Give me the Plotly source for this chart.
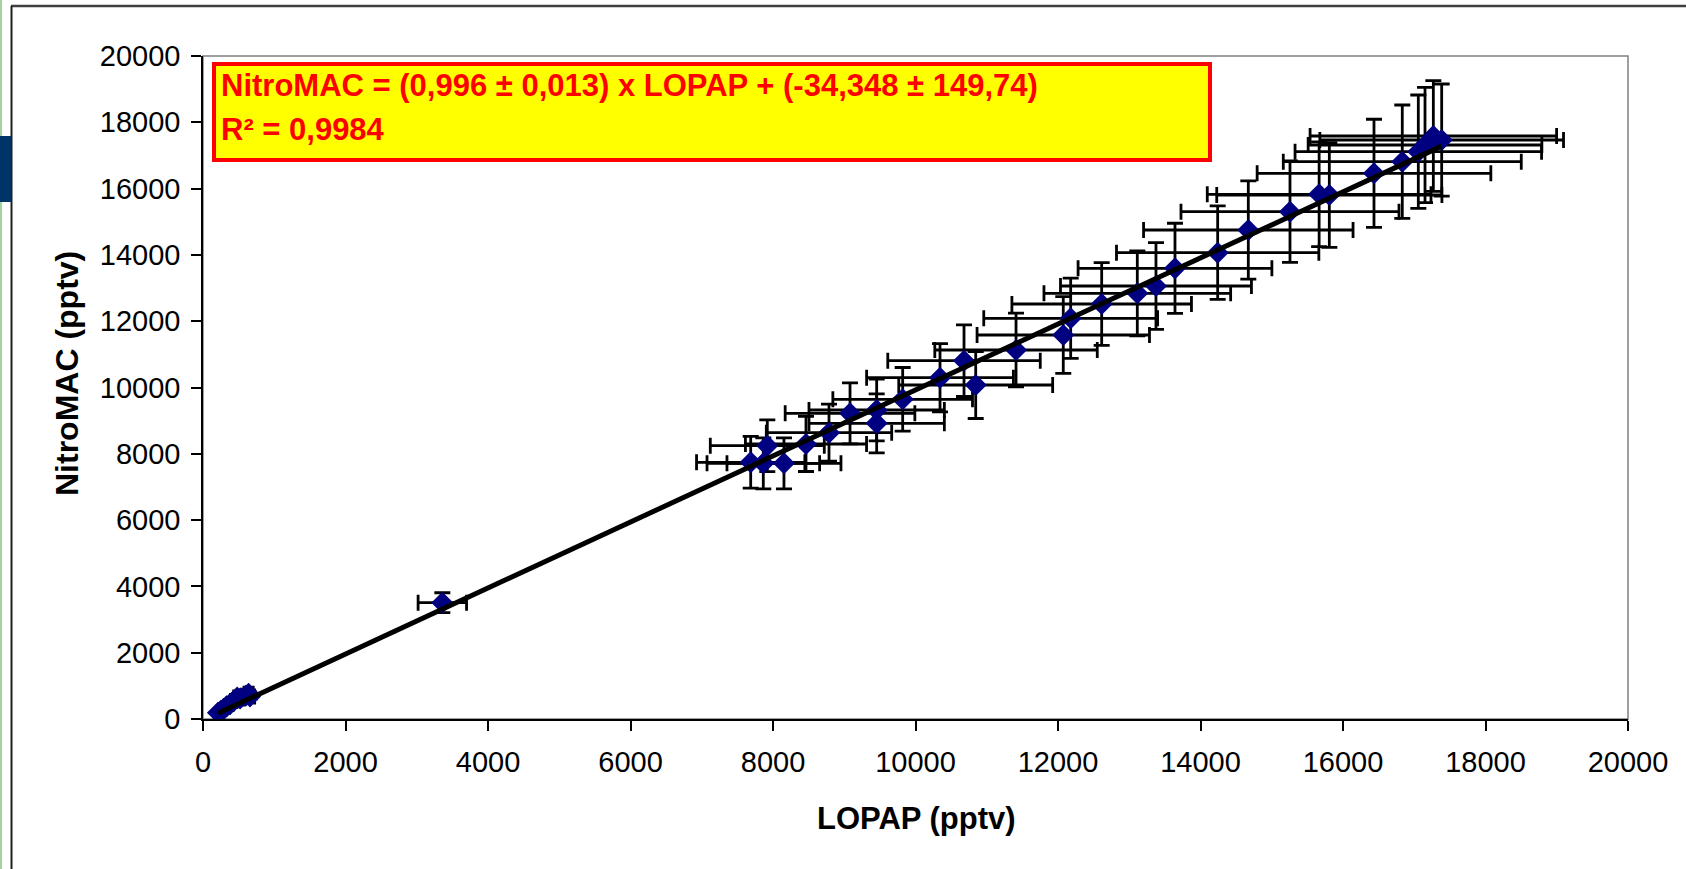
import plotly.graph_objects as go

# ---------------- data ----------------
lopap = [210, 250, 290, 330, 380, 430, 480, 520, 600, 640, 660,
         3359,
         7687, 7864, 7920, 8154, 8463, 8786, 9081, 9455, 9455, 9820,
         10344, 10681, 10845, 11411, 12074, 12178, 12613, 13113, 13375, 13642,
         14241, 14671, 15256, 15665, 15808, 16435, 16832, 17057, 17151, 17268, 17385]
nitromac = [190, 250, 300, 380, 450, 540, 650, 620, 700, 760, 680,
            3508,
            7744, 7713, 8244, 7713, 8296, 8637, 9222, 9321, 8920, 9644,
            10296, 10808, 10075, 11131, 11584, 12087, 12519, 12841, 13062, 13595,
            14066, 14751, 15303, 15828, 15807, 16462, 16812, 17113, 17315, 17587, 17466]
lopap_err = [20, 25, 30, 35, 40, 45, 50, 50, 60, 65, 65,
             340,
             760, 790, 800, 800, 850, 880, 910, 950, 950, 980,
             1030, 1070, 1080, 1140, 1210, 1220, 1260, 1310, 1340, 1360,
             1420, 1470, 1530, 1570, 1580, 1640, 1670, 1730, 1640, 1730, 1710]
nitromac_err = [20, 25, 30, 40, 45, 55, 65, 60, 70, 75, 70,
                300,
                780, 770, 780, 770, 830, 860, 920, 930, 890, 960,
                1030, 1080, 1010, 1110, 1160, 1210, 1250, 1280, 1310, 1360,
                1410, 1480, 1530, 1580, 1580, 1630, 1710, 1710, 1740, 1670, 1690]

fit_slope = 0.996
fit_intercept = -34.348
eq_line1 = "NitroMAC = (0,996 ± 0,013) x LOPAP + (-34,348 ± 149,74)"
eq_line2 = "R² = 0,9984"
x_title = "LOPAP (pptv)"
y_title = "NitroMAC (pptv)"
axis_range = [0, 20000]
tick_step = 2000

# ---------------- layout geometry ----------------
W, H = 1686, 869
L, R, T, B = 203, 1628, 56, 719   # plot area in pixels
FONT = "Liberation Sans, Arial, sans-serif"


def px(x):
    return (x - L) / (R - L)


def py(y):
    return (B - y) / (B - T)


trend_x = [min(lopap), max(lopap)]
trend_y = [fit_slope * v + fit_intercept for v in trend_x]

fig = go.Figure()
fig.add_trace(go.Scatter(
    x=lopap, y=nitromac, mode="markers",
    marker=dict(symbol="diamond", size=17, color="#000080", line=dict(width=0)),
    error_x=dict(type="data", array=lopap_err, visible=True, color="black",
                 thickness=2.8, width=8),
    error_y=dict(type="data", array=nitromac_err, visible=True, color="black",
                 thickness=2.8, width=8),
    showlegend=False, hoverinfo="x+y",
))
fig.add_trace(go.Scatter(
    x=trend_x, y=trend_y, mode="lines",
    line=dict(color="black", width=5), showlegend=False, hoverinfo="skip",
))

axis_common = dict(
    range=axis_range, dtick=tick_step, tick0=0, tickformat="d",
    showgrid=False, zeroline=False, showline=True, linecolor="black", linewidth=1.5,
    ticks="outside", ticklen=10, tickwidth=1.5, tickcolor="black",
    tickfont=dict(family=FONT, size=29, color="black"),
    fixedrange=True,
)

shapes = [
    # plot area border (gray)
    dict(type="rect", xref="paper", yref="paper", x0=0, y0=0, x1=1, y1=1,
         line=dict(color="#808080", width=1.5), layer="below"),
    # outer frame top line
    dict(type="line", xref="paper", yref="paper", x0=px(11), x1=px(W + 5), y0=py(6), y1=py(6),
         line=dict(color="#404040", width=2.5)),
    # outer frame left line
    dict(type="line", xref="paper", yref="paper", x0=px(11.5), x1=px(11.5), y0=py(6), y1=py(H + 5),
         line=dict(color="#202020", width=2)),
    # green edge line
    dict(type="line", xref="paper", yref="paper", x0=px(1), x1=px(1), y0=py(-5), y1=py(H + 5),
         line=dict(color="#9fd49f", width=2)),
    # dark blue tab at left
    dict(type="rect", xref="paper", yref="paper", x0=px(-2), x1=px(11), y0=py(136), y1=py(202),
         fillcolor="#003366", line=dict(width=0)),
    # equation box
    dict(type="rect", xref="paper", yref="paper", x0=px(214), x1=px(1210), y0=py(64), y1=py(160),
         fillcolor="#ffff00", line=dict(color="#ff0000", width=4)),
]

annotations = [
    dict(text=eq_line1, xref="paper", yref="paper", x=px(219), y=py(86),
         xanchor="left", yanchor="middle", showarrow=False,
         font=dict(family=FONT, size=31, color="#ff0000", weight="bold")),
    dict(text=eq_line2, xref="paper", yref="paper", x=px(219), y=py(129),
         xanchor="left", yanchor="middle", showarrow=False,
         font=dict(family=FONT, size=31, color="#ff0000", weight="bold")),
    dict(text=x_title, xref="paper", yref="paper", x=px(916), y=py(819),
         xanchor="center", yanchor="middle", showarrow=False,
         font=dict(family=FONT, size=31, color="black", weight="bold")),
    dict(text=y_title, xref="paper", yref="paper", x=px(67), y=py(374),
         xanchor="center", yanchor="middle", showarrow=False, textangle=-90,
         font=dict(family=FONT, size=32, color="black", weight="bold")),
]

fig.update_layout(
    width=W, height=H, autosize=False,
    margin=dict(l=L, r=W - R, t=T, b=H - B, pad=0),
    paper_bgcolor="white", plot_bgcolor="white",
    xaxis=dict(**axis_common, ticklabelstandoff=6),
    yaxis=dict(**axis_common, ticklabelstandoff=5),
    shapes=shapes, annotations=annotations,
    font=dict(family=FONT),
)

fig.write_html(
    "out.html",
    config={"displayModeBar": False},
    post_script="document.body.style.margin='0px';document.body.style.padding='0px';"
                "document.documentElement.style.overflow='hidden';",
)
